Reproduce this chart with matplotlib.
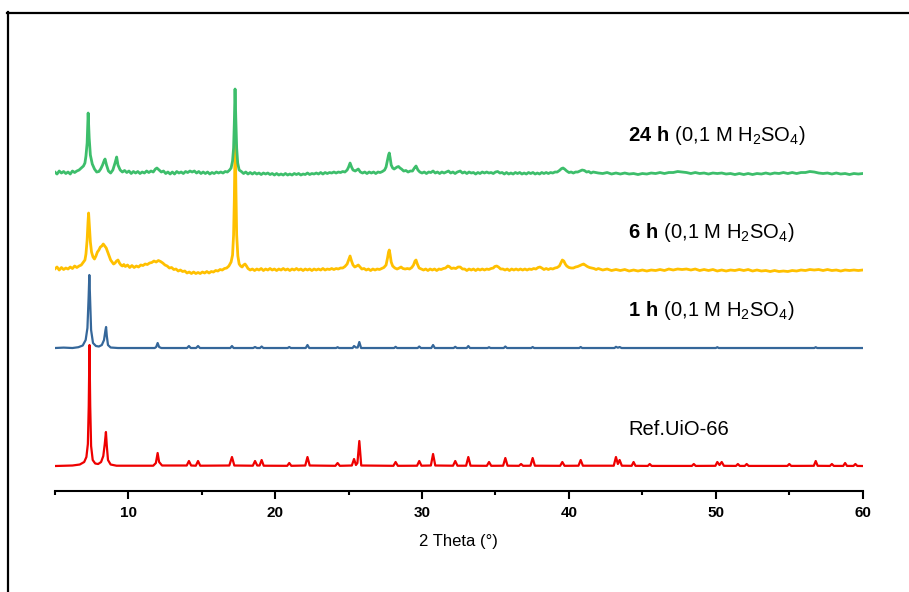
import numpy as np
import matplotlib.pyplot as plt
from matplotlib.lines import Line2D

plt.rcParams['font.family'] = ['Liberation Sans', 'DejaVu Sans']
plt.rcParams['mathtext.fontset'] = 'custom'
plt.rcParams['mathtext.rm'] = 'Liberation Sans'
plt.rcParams['mathtext.bf'] = 'Liberation Sans:bold'

# cada difratograma: pares [2theta, intensidade acima da linha de base (u.a.)]
ref_uio = np.array([
    [5.0, 0], [6.2, 0.5], [6.7, 1.5], [7.0, 4], [7.15, 9], [7.25, 22], [7.31, 60], [7.36, 121], [7.41, 60],
    [7.47, 20], [7.58, 6], [7.75, 2.5], [7.95, 2], [8.15, 4], [8.3, 10], [8.4, 22], [8.48, 34], [8.54, 20],
    [8.62, 6], [8.8, 1.5], [9.2, 0.3], [11.7, 0.3], [11.88, 3], [12.0, 13], [12.1, 4], [12.3, 0.5],
    [13.98, 0.5], [14.13, 5], [14.28, 0.5], [14.6, 0.3], [14.75, 5], [14.9, 0.3], [16.88, 0.5], [17.06, 9],
    [17.22, 0.5], [18.48, 0.3], [18.63, 5], [18.78, 0.5], [18.94, 0.5], [19.08, 6], [19.22, 0.3],
    [20.82, 0.2], [20.96, 3], [21.1, 0.2], [22.05, 0.5], [22.2, 9], [22.35, 0.5], [24.1, 0.2], [24.25, 3],
    [24.4, 0.2], [25.22, 0.5], [25.37, 7], [25.5, 1], [25.6, 3], [25.73, 25], [25.86, 0.5], [28.05, 0.2],
    [28.2, 4], [28.35, 0.2], [29.66, 0.3], [29.81, 5], [29.96, 0.3], [30.6, 0.5], [30.75, 12], [30.9, 0.5],
    [32.11, 0.3], [32.26, 5], [32.41, 0.3], [33.0, 0.3], [33.15, 9], [33.3, 0.3], [34.41, 0.2], [34.56, 4],
    [34.71, 0.2], [35.52, 0.3], [35.67, 8], [35.82, 0.3], [36.6, 0.2], [36.74, 2], [36.88, 0.2],
    [37.38, 0.3], [37.53, 8], [37.68, 0.3], [39.4, 0.2], [39.55, 4], [39.7, 0.2], [40.65, 0.3], [40.8, 6],
    [40.95, 0.3], [43.05, 0.3], [43.2, 9], [43.33, 2], [43.45, 6], [43.6, 0.3], [44.27, 0.2], [44.4, 4],
    [44.53, 0.2], [45.37, 0.1], [45.5, 2], [45.63, 0.1], [48.37, 0.1], [48.5, 2], [48.63, 0.1],
    [49.97, 0.2], [50.1, 4], [50.25, 1], [50.4, 4], [50.55, 0.2], [51.37, 0.1], [51.5, 2], [51.63, 0.1],
    [51.97, 0.1], [52.1, 2], [52.23, 0.1], [54.87, 0.1], [55.0, 2], [55.13, 0.1], [56.67, 0.2], [56.8, 5],
    [56.93, 0.2], [57.77, 0.1], [57.9, 2], [58.03, 0.1], [58.67, 0.1], [58.8, 3], [58.93, 0.1],
    [59.37, 0.1], [59.5, 2], [59.63, 0.1], [60.0, 0]])

h1 = np.array([
    [5.0, 0], [5.6, 0.4], [6.2, 0], [6.6, 0.8], [6.9, 2.5], [7.1, 8], [7.22, 20], [7.3, 50], [7.35, 73],
    [7.4, 50], [7.47, 18], [7.6, 5], [7.8, 2], [8.0, 1.5], [8.2, 3], [8.35, 8], [8.45, 18], [8.49, 21],
    [8.54, 12], [8.62, 3], [8.8, 0.5], [9.3, 0], [11.8, 0], [11.9, 1], [12.0, 5], [12.1, 1], [12.25, 0],
    [14.0, 0], [14.13, 2], [14.25, 0], [14.62, 0], [14.75, 2], [14.88, 0], [16.95, 0], [17.06, 2],
    [17.17, 0], [18.5, 0], [18.63, 1], [18.76, 0], [18.97, 0], [19.08, 1.5], [19.2, 0], [20.85, 0],
    [20.96, 1], [21.07, 0], [22.08, 0], [22.2, 3], [22.32, 0], [24.15, 0], [24.25, 0.8], [24.35, 0],
    [25.27, 0], [25.37, 2], [25.5, 0.5], [25.62, 0.5], [25.73, 6], [25.85, 0], [28.1, 0], [28.2, 1.2],
    [28.3, 0], [29.7, 0], [29.81, 1.5], [29.92, 0], [30.63, 0], [30.75, 3], [30.87, 0], [32.15, 0],
    [32.26, 1.2], [32.37, 0], [33.04, 0], [33.15, 2], [33.26, 0], [34.46, 0], [34.56, 0.8], [34.66, 0],
    [35.56, 0], [35.67, 1.5], [35.78, 0], [37.43, 0], [37.53, 1], [37.63, 0], [40.7, 0], [40.8, 1],
    [40.9, 0], [43.1, 0], [43.2, 1.2], [43.33, 0.3], [43.45, 1], [43.58, 0], [50.0, 0], [50.1, 0.8],
    [50.2, 0], [56.7, 0], [56.8, 0.8], [56.9, 0], [60.0, 0]])

h6 = np.array([
    [5.0, 1], [5.15, 3], [5.3, 0], [5.45, 2.5], [5.6, 0.5], [5.75, 2], [5.9, 1], [6.05, 3], [6.2, 1.5],
    [6.35, 4], [6.5, 2.5], [6.65, 4], [6.8, 5], [6.95, 8], [7.05, 10], [7.12, 16], [7.2, 30], [7.26, 48],
    [7.3, 57], [7.35, 45], [7.42, 28], [7.5, 18], [7.6, 13], [7.7, 11], [7.8, 14], [7.9, 18], [8.0, 20],
    [8.1, 23], [8.2, 24], [8.3, 26], [8.4, 24], [8.5, 22], [8.6, 18], [8.7, 14], [8.8, 10], [8.9, 8],
    [9.0, 6], [9.1, 7], [9.2, 9], [9.3, 10], [9.4, 7], [9.5, 5], [9.6, 4], [9.7, 5.5], [9.8, 3.5],
    [9.95, 5], [10.1, 2.5], [10.25, 4.5], [10.4, 2.5], [10.55, 4], [10.7, 3], [10.85, 5], [11.0, 4.5],
    [11.15, 6], [11.3, 5.5], [11.45, 7], [11.6, 7.5], [11.75, 9], [11.9, 8], [12.05, 9.5], [12.2, 8.5],
    [12.35, 7], [12.5, 5], [12.65, 4], [12.8, 2], [12.95, 2.5], [13.1, 0.5], [13.25, 1], [13.4, -1],
    [13.55, 0], [13.7, -1.5], [13.85, -1], [14.0, -3], [14.15, -2], [14.3, -3.5], [14.45, -2], [14.6, -3.5],
    [14.75, -2.5], [14.9, -3.5], [15.05, -2], [15.2, -3], [15.35, -1.5], [15.5, -3], [15.65, -1.5],
    [15.8, -2], [15.95, -0.5], [16.1, -1], [16.25, 0.5], [16.4, 0], [16.55, 1.5], [16.7, 2], [16.85, 4],
    [17.0, 8], [17.1, 15], [17.17, 35], [17.22, 70], [17.28, 135], [17.33, 80], [17.38, 35], [17.46, 14],
    [17.55, 6], [17.65, 4], [17.75, 3], [17.85, 5], [17.95, 6], [18.05, 4], [18.15, 1.5], [18.3, 0],
    [18.45, 1], [18.6, -0.5], [18.75, 1], [18.9, 0], [19.05, 1.5], [19.2, -0.5], [19.35, 1], [19.5, 0],
    [19.65, 1.5], [19.8, 0], [19.95, 1], [20.1, -0.5], [20.25, 1], [20.4, 0], [20.55, 1.5], [20.7, 0],
    [20.85, 1], [21.0, -0.5], [21.15, 1], [21.3, 0], [21.45, 1.5], [21.6, 0], [21.75, 1], [21.9, -0.5],
    [22.05, 1], [22.2, 0], [22.35, 1], [22.5, -0.5], [22.65, 1], [22.8, 0], [22.95, 1], [23.1, 0],
    [23.25, 1.5], [23.4, 0], [23.55, 1], [23.7, 0.5], [23.85, 1.5], [24.0, 0.5], [24.15, 1.5], [24.3, 1],
    [24.45, 2], [24.6, 2], [24.75, 3.5], [24.9, 6], [25.0, 10], [25.1, 14], [25.2, 9], [25.3, 5],
    [25.42, 3], [25.55, 4], [25.66, 5], [25.78, 3], [25.9, 1], [26.05, 1.5], [26.2, 0], [26.35, 1],
    [26.5, -0.5], [26.65, 1], [26.8, 0], [26.95, 1], [27.1, 0.5], [27.25, 1.5], [27.4, 2.5], [27.55, 5],
    [27.65, 12], [27.72, 18], [27.77, 20], [27.83, 15], [27.9, 8], [28.0, 4], [28.15, 2], [28.3, 1],
    [28.45, 2], [28.57, 3], [28.7, 1.5], [28.85, 1], [29.0, 1.5], [29.15, 1], [29.3, 2.5], [29.42, 5],
    [29.52, 9], [29.59, 10], [29.68, 6], [29.8, 2], [29.95, 1], [30.1, 0], [30.25, 1], [30.4, -0.5],
    [30.55, 1], [30.7, 0], [30.85, 1], [31.0, -0.5], [31.15, 1], [31.3, 0.5], [31.45, 1.5], [31.6, 2],
    [31.75, 4], [31.85, 3.5], [32.0, 1.5], [32.15, 2], [32.3, 1.5], [32.45, 3], [32.6, 3], [32.75, 1],
    [32.9, 1], [33.05, -0.5], [33.2, 1], [33.35, 0], [33.5, 1], [33.65, -0.5], [33.8, 1], [33.95, 0],
    [34.1, 1], [34.25, 0], [34.4, 1], [34.55, 0.5], [34.7, 1.5], [34.85, 2], [34.95, 3.5], [35.08, 4],
    [35.2, 3], [35.35, 1], [35.5, 1], [35.65, 0], [35.8, 1], [35.95, -0.5], [36.1, 1], [36.25, 0],
    [36.4, 1], [36.55, 0], [36.7, 1], [36.85, 0], [37.0, 1], [37.15, 0], [37.3, 1], [37.45, 0.5],
    [37.6, 1.5], [37.75, 1], [37.9, 2.5], [38.03, 3], [38.15, 2], [38.3, 0.5], [38.45, 1.5], [38.6, 0.5],
    [38.75, 1.5], [38.9, 1], [39.05, 2], [39.2, 2.5], [39.35, 4], [39.45, 7], [39.55, 10], [39.65, 9],
    [39.75, 6], [39.85, 4], [40.0, 2.5], [40.15, 2], [40.3, 2], [40.45, 3], [40.6, 3.5], [40.75, 4.5],
    [40.9, 5.5], [41.0, 6], [41.1, 5], [41.25, 3.5], [41.4, 2.5], [41.55, 2], [41.7, 1.5], [41.85, 0.5],
    [42.0, 1.5], [42.3, 0], [42.6, 1], [42.9, -0.5], [43.2, 0.5], [43.5, -0.5], [43.8, 0.5], [44.1, -1],
    [44.4, 0], [44.7, -1], [45.0, 0], [45.3, -1], [45.6, 0], [45.9, -0.5], [46.2, 0.5], [46.5, -0.5],
    [46.8, 1], [47.1, 0], [47.4, 1], [47.7, 0.5], [48.0, 1], [48.3, 0], [48.6, 1], [48.9, -0.5],
    [49.2, 0.5], [49.5, -0.5], [49.8, 0.5], [50.1, -1], [50.4, 0], [50.7, -1], [51.0, 0], [51.3, -0.5],
    [51.6, 0.5], [51.9, -0.5], [52.2, 0.5], [52.5, -1], [52.8, 0], [53.1, -1], [53.4, -0.5], [53.7, -1.5],
    [54.0, -0.5], [54.3, -1.5], [54.6, -1], [54.9, -1.5], [55.2, -0.5], [55.5, -1], [55.8, 0], [56.1, -0.5],
    [56.4, 0.5], [56.7, 0], [57.0, 0.5], [57.3, -0.5], [57.6, 0.5], [57.9, -0.5], [58.2, 0], [58.5, -1],
    [58.8, 0], [59.1, -0.5], [59.4, 0], [59.7, -0.5], [60.0, 0]])

h24 = np.array([
    [5.0, 1], [5.15, -1], [5.3, 2], [5.45, 0], [5.6, 1.5], [5.75, -0.5], [5.9, 1], [6.05, -1], [6.2, 2],
    [6.35, 0.5], [6.5, 2], [6.65, 3], [6.8, 5], [6.95, 7], [7.05, 10], [7.12, 17], [7.2, 30], [7.27, 60],
    [7.34, 35], [7.42, 18], [7.55, 9], [7.7, 4], [7.85, 1], [8.0, 1.5], [8.12, 4], [8.25, 8], [8.35, 12],
    [8.42, 14], [8.52, 8], [8.65, 2], [8.8, 0], [8.95, 3], [9.1, 10], [9.21, 16], [9.3, 8], [9.45, 3],
    [9.6, 1], [9.75, 2.5], [9.9, 0.5], [10.05, 2], [10.2, -0.5], [10.35, 1.5], [10.5, 0], [10.65, 1.5],
    [10.8, -0.5], [10.95, 1], [11.1, 0], [11.25, 2], [11.4, 0.5], [11.55, 2], [11.7, 1], [11.85, 4],
    [11.95, 5], [12.1, 3], [12.25, 1], [12.4, 2], [12.55, -0.5], [12.7, 1], [12.85, -1], [13.0, 1],
    [13.15, -1], [13.3, 1.5], [13.45, 0], [13.6, 1], [13.75, -0.5], [13.9, 1.5], [14.05, 0.5], [14.2, 2],
    [14.35, 1], [14.5, 2], [14.65, 0], [14.8, 1.5], [14.95, -0.5], [15.1, 1], [15.25, -0.5], [15.4, 1],
    [15.55, -1], [15.7, 0.5], [15.85, -0.5], [16.0, 1], [16.15, 0], [16.3, 1], [16.45, 0], [16.6, 1.5],
    [16.75, 1], [16.9, 3], [17.0, 5], [17.1, 12], [17.17, 25], [17.22, 50], [17.27, 84], [17.32, 55],
    [17.38, 25], [17.45, 10], [17.55, 3], [17.7, 1.5], [17.85, -0.5], [18.0, 1], [18.15, -1], [18.3, 0.5],
    [18.45, -1], [18.6, 0.5], [18.75, -1], [18.9, 0], [19.05, -1.5], [19.2, 0], [19.35, -1], [19.5, 0],
    [19.65, -1.5], [19.8, -0.5], [19.95, -2], [20.1, -0.5], [20.25, -2], [20.4, -1], [20.55, -2],
    [20.7, -0.5], [20.85, -2], [21.0, -1], [21.15, -2], [21.3, -0.5], [21.45, -1.5], [21.6, -0.5],
    [21.75, -2], [21.9, -1], [22.05, -1.5], [22.2, 0], [22.35, -1.5], [22.5, -0.5], [22.65, -1], [22.8, 0],
    [22.95, -1], [23.1, 0.5], [23.25, -1], [23.4, 0.5], [23.55, -0.5], [23.7, 0.5], [23.85, 0], [24.0, 1],
    [24.15, 0], [24.3, 1], [24.45, 0.5], [24.6, 1.5], [24.75, 1], [24.9, 3], [25.0, 6], [25.1, 10],
    [25.2, 6], [25.3, 3], [25.45, 2], [25.55, 3], [25.66, 4], [25.8, 1], [25.95, 0], [26.1, 1],
    [26.25, -0.5], [26.4, 1], [26.55, 0], [26.7, 1], [26.85, -0.5], [27.0, 1], [27.15, 0.5], [27.3, 1.5],
    [27.45, 3], [27.55, 6], [27.65, 13], [27.72, 18], [27.77, 20], [27.83, 15], [27.9, 8], [28.0, 5],
    [28.1, 4], [28.2, 5], [28.3, 6], [28.4, 6.5], [28.5, 5], [28.6, 4], [28.75, 2], [28.9, 2.5],
    [29.05, 1], [29.2, 2], [29.35, 2], [29.48, 5], [29.59, 7], [29.72, 3], [29.85, 1], [30.0, 0],
    [30.15, 1], [30.3, -0.5], [30.45, 1], [30.6, 0.5], [30.75, 2], [30.9, 0], [31.05, 1], [31.2, -0.5],
    [31.35, 1], [31.5, 0], [31.65, 1], [31.8, 2], [31.95, 0], [32.1, 1], [32.25, -0.5], [32.4, 1],
    [32.6, 2], [32.75, 0], [32.9, 1], [33.05, -0.5], [33.2, 1], [33.35, 0], [33.5, 0.5], [33.65, -1],
    [33.8, 0.5], [33.95, -0.5], [34.1, 1], [34.25, 0], [34.4, 1], [34.55, 0], [34.7, 0.5], [34.85, -0.5],
    [35.0, 1], [35.15, 1.5], [35.3, 0], [35.45, 0.5], [35.6, -1], [35.75, 0.5], [35.9, -1], [36.05, 0],
    [36.2, -1], [36.35, 0.5], [36.5, -0.5], [36.65, 0.5], [36.8, -1], [36.95, 0], [37.1, -1], [37.25, 0.5],
    [37.4, -0.5], [37.55, 0.5], [37.7, -1], [37.85, 0], [38.0, -1], [38.15, 0.5], [38.3, -0.5],
    [38.45, 0.5], [38.6, -0.5], [38.75, 0.5], [38.9, 0], [39.05, 1], [39.2, 1], [39.35, 2.5], [39.5, 4.5],
    [39.6, 5], [39.7, 4], [39.85, 2], [40.0, 0.5], [40.15, 1], [40.3, 0], [40.45, 1], [40.6, 1],
    [40.75, 2], [40.9, 3], [41.05, 2.5], [41.2, 1], [41.35, 1.5], [41.5, 0], [41.65, 1], [42.0, 0],
    [42.3, -0.5], [42.6, 0.5], [42.9, -1], [43.2, 0], [43.5, -1], [43.8, 0], [44.1, -1], [44.4, -0.5],
    [44.7, -1.5], [45.0, -0.5], [45.3, -1], [45.6, 0], [45.9, -0.5], [46.2, 0.5], [46.5, -0.5], [46.8, 0.5],
    [47.1, 0.5], [47.4, 1.5], [47.7, 1], [48.0, 0.5], [48.3, -0.5], [48.6, 0.5], [48.9, -0.5], [49.2, 0],
    [49.5, -1], [49.8, 0], [50.1, -0.5], [50.4, 0], [50.7, -1], [51.0, -0.5], [51.3, -1.5], [51.6, -0.5],
    [51.9, -1.5], [52.2, -0.5], [52.5, -1.5], [52.8, -0.5], [53.1, -1], [53.4, 0], [53.7, -1], [54.0, 0],
    [54.3, -0.5], [54.6, 0.5], [54.9, -0.5], [55.2, 0.5], [55.5, -0.5], [55.8, 0.5], [56.1, 0.5],
    [56.4, 1.5], [56.7, 1], [57.0, 0], [57.3, -0.5], [57.6, 0], [57.9, -1], [58.2, 0], [58.5, -1],
    [58.8, -0.5], [59.1, -1.5], [59.4, -0.5], [59.7, -1], [60.0, -0.5]])

nomes = ['Ref.UiO-66',
         r'$\mathbf{1\ h}$ (0,1 M H$_2$SO$_4$)',
         r'$\mathbf{6\ h}$ (0,1 M H$_2$SO$_4$)',
         r'$\mathbf{24\ h}$ (0,1 M H$_2$SO$_4$)']
dados = [ref_uio, h1, h6, h24]
offsets = [0, 118, 196, 293]
cores = ['#EE0000', '#35679A', '#FFC000', '#3DBE6B']
larguras = [1.6, 1.6, 2.0, 2.0]
label_y = [31, 150, 228, 325]

fig = plt.figure(figsize=(9.09, 5.92), dpi=100)
ax = fig.add_axes([0.0603, 0.1711, 0.8888, 0.7613])

for d, off, cor, lw, nome, ly in zip(dados, offsets, cores, larguras, nomes, label_y):
    ax.plot(d[:, 0], d[:, 1] + off, color=cor, lw=lw, solid_joinstyle='round')
    ax.text(44.05, ly, nome, fontsize=14.5, color='black', ha='left', va='baseline')

ax.set_xlim(5, 60)
ax.set_ylim(-24.7, 426)
ax.set_xticks([10, 20, 30, 40, 50, 60])
ax.set_xticks([5, 15, 25, 35, 45, 55], minor=True)
ax.set_yticks([])
for s in ['top', 'left', 'right']:
    ax.spines[s].set_visible(False)
ax.spines['bottom'].set_linewidth(1.5)
ax.tick_params(axis='x', which='major', direction='out', length=6, width=1.5, pad=5, labelsize=11)
ax.tick_params(axis='x', which='minor', direction='out', length=3, width=1.5)
for lb in ax.get_xticklabels():
    lb.set_fontweight('bold')
ax.set_xlabel('2 Theta (°)', fontsize=12, labelpad=10)

# moldura
fig.add_artist(Line2D([8/909, 8/909], [0, 1 - 12/592], transform=fig.transFigure, color='black', lw=1.6))
fig.add_artist(Line2D([7/909, 1], [1 - 13/592, 1 - 13/592], transform=fig.transFigure, color='black', lw=1.6))

fig.savefig('out.png', dpi=100)
